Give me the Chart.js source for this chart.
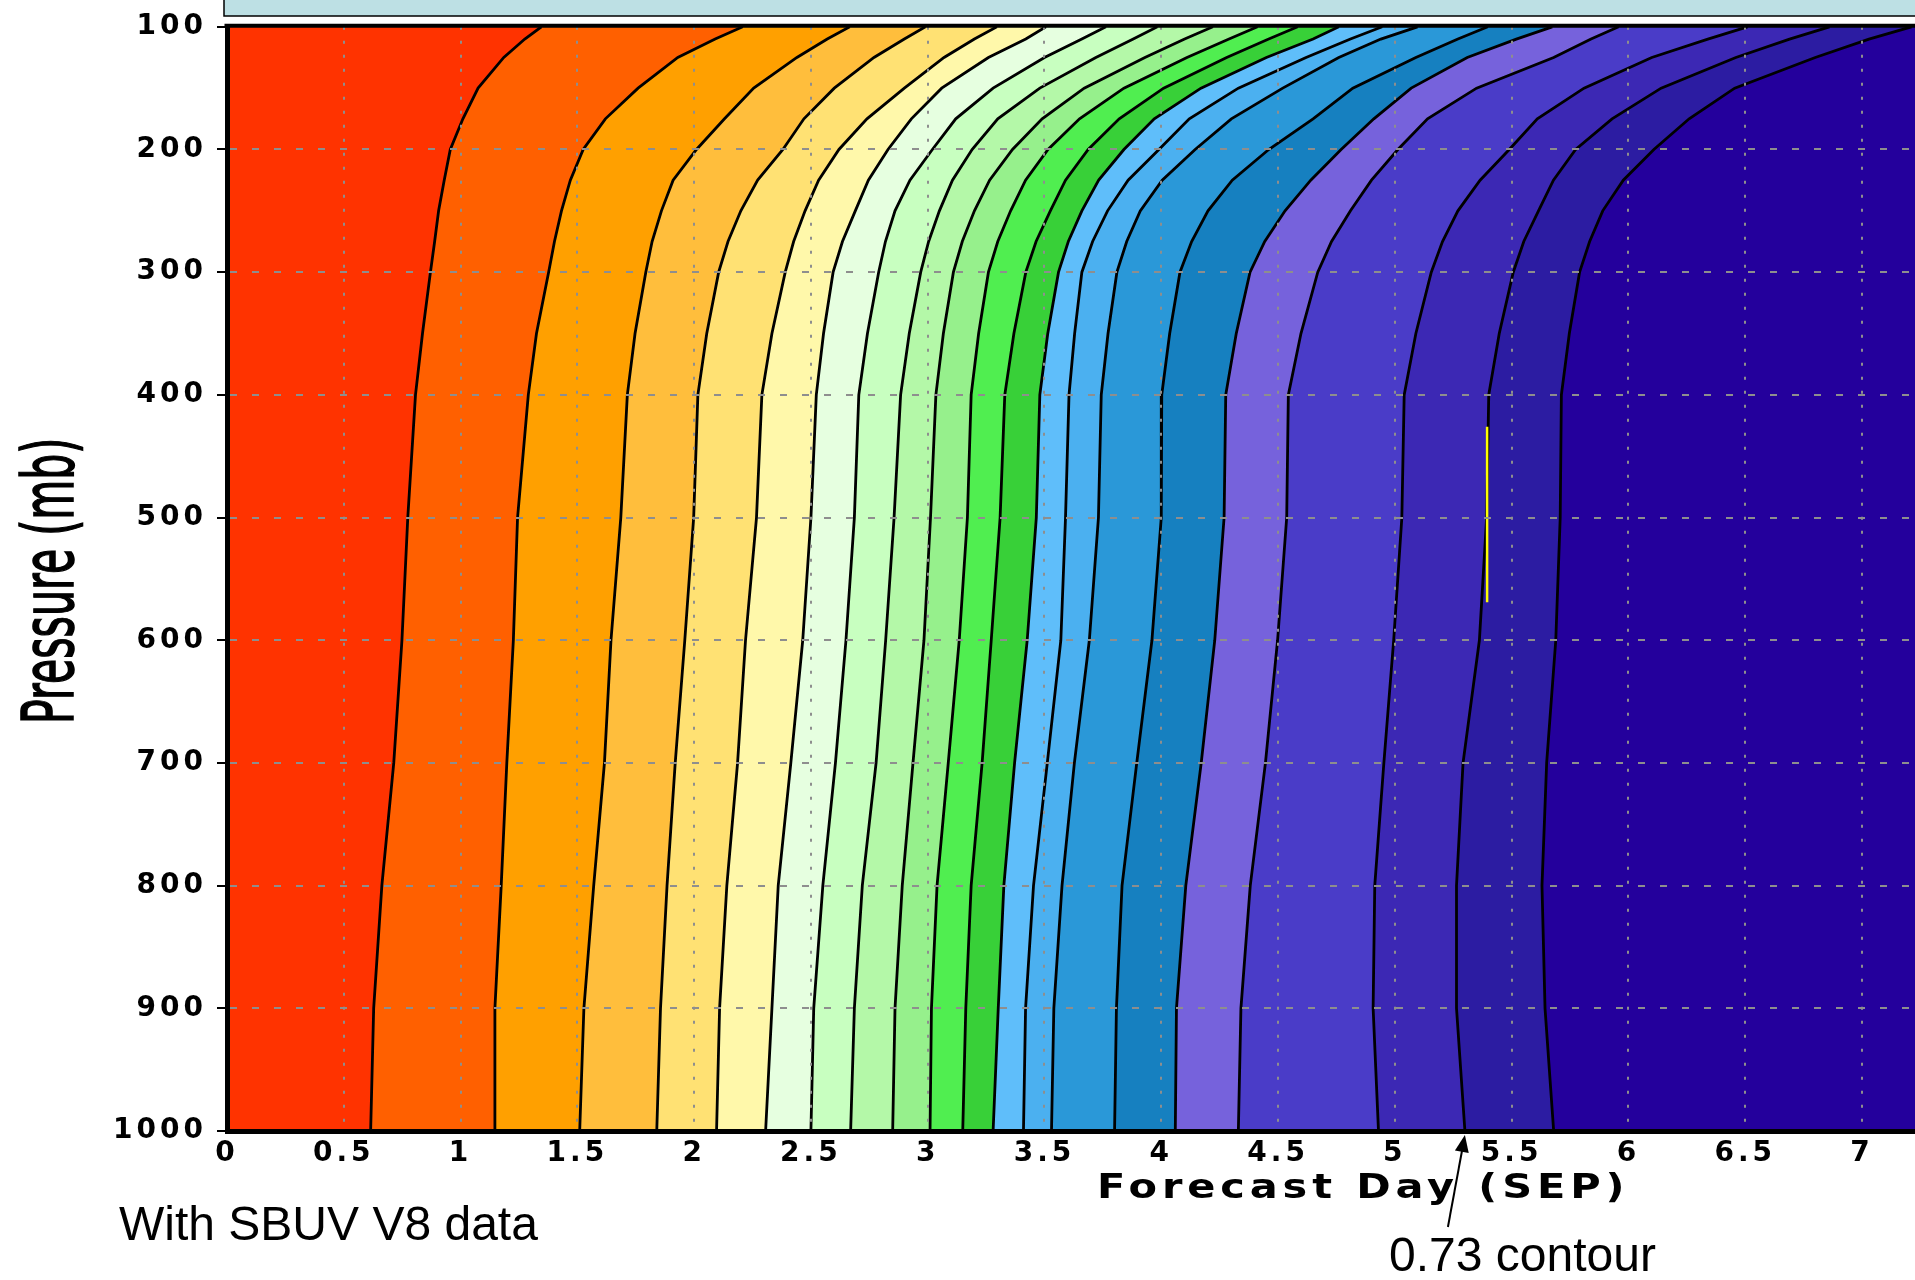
<!DOCTYPE html>
<html>
<head>
<meta charset="utf-8">
<script src="https://cdn.jsdelivr.net/npm/chart.js@4.4.1/dist/chart.umd.min.js"></script>
<style>
html,body{margin:0;padding:0;background:#fff;}
#wrap{position:relative;width:1915px;height:1280px;overflow:hidden;background:#fff;}
#c{position:absolute;left:0;top:0;width:1915px;height:1280px;}
.note{position:absolute;font-family:"Liberation Sans",Arial,sans-serif;font-size:48px;line-height:48px;color:#000;white-space:nowrap;}
</style>
</head>
<body>
<div id="wrap">
<canvas id="c" width="1915" height="1280"></canvas>
<div class="note" style="left:119px;top:1200px;">With SBUV V8 data</div>
<div class="note" style="left:1389px;top:1231px;">0.73 contour</div>
</div>
<script>
// ---------------- data ----------------
const pressureLevels = [100, 110, 125, 150, 175, 200, 225, 250, 275, 300, 350, 400, 500, 600, 700, 800, 900, 1000];

// forecast day of each contour line at the pressure levels above
const contour01 = [1.346, 1.275, 1.185, 1.075, 1.01, 0.956, 0.93, 0.906, 0.889, 0.871, 0.837, 0.807, 0.774, 0.749, 0.714, 0.663, 0.628, 0.615];
const contour02 = [2.208, 2.09, 1.93, 1.76, 1.62, 1.525, 1.47, 1.432, 1.402, 1.377, 1.325, 1.29, 1.244, 1.226, 1.198, 1.174, 1.147, 1.147];
const contour03 = [2.666, 2.57, 2.44, 2.255, 2.13, 2.01, 1.91, 1.86, 1.82, 1.793, 1.747, 1.714, 1.686, 1.644, 1.616, 1.57, 1.528, 1.51];
const contour04 = [2.99, 2.9, 2.77, 2.6, 2.47, 2.38, 2.272, 2.2, 2.145, 2.105, 2.054, 2.016, 1.998, 1.96, 1.919, 1.884, 1.856, 1.84];
const contour05 = [3.296, 3.2, 3.07, 2.9, 2.74, 2.62, 2.533, 2.475, 2.426, 2.39, 2.333, 2.29, 2.267, 2.22, 2.186, 2.14, 2.109, 2.096];
const contour06 = [3.506, 3.42, 3.26, 3.06, 2.93, 2.83, 2.746, 2.69, 2.635, 2.595, 2.554, 2.523, 2.5, 2.465, 2.414, 2.36, 2.333, 2.306];
const contour07 = [3.763, 3.66, 3.5, 3.28, 3.12, 3.02, 2.924, 2.86, 2.819, 2.79, 2.742, 2.705, 2.686, 2.65, 2.605, 2.551, 2.512, 2.50];
const contour08 = [3.983, 3.88, 3.72, 3.48, 3.3, 3.19, 3.106, 3.05, 3.004, 2.97, 2.921, 2.884, 2.856, 2.82, 2.779, 2.72, 2.686, 2.67];
const contour09 = [4.221, 4.1, 3.93, 3.67, 3.49, 3.363, 3.265, 3.2, 3.148, 3.11, 3.067, 3.035, 3.012, 2.984, 2.937, 2.891, 2.86, 2.85];
const contour10 = [4.412, 4.29, 4.11, 3.84, 3.65, 3.515, 3.419, 3.355, 3.3, 3.26, 3.218, 3.186, 3.17, 3.135, 3.088, 3.04, 3.016, 3.01];
const contour11 = [4.584, 4.46, 4.28, 4.01, 3.82, 3.687, 3.59, 3.525, 3.464, 3.42, 3.369, 3.33, 3.31, 3.272, 3.233, 3.186, 3.163, 3.15];
const contour12 = [4.76, 4.65, 4.45, 4.17, 3.97, 3.84, 3.732, 3.66, 3.602, 3.56, 3.514, 3.48, 3.465, 3.426, 3.372, 3.326, 3.302, 3.28];
const contour13 = [4.946, 4.81, 4.62, 4.33, 4.12, 3.99, 3.858, 3.77, 3.706, 3.66, 3.629, 3.605, 3.59, 3.57, 3.512, 3.453, 3.419, 3.41];
const contour14 = [5.097, 4.94, 4.76, 4.52, 4.3, 4.145, 4.004, 3.91, 3.852, 3.81, 3.772, 3.743, 3.731, 3.692, 3.628, 3.575, 3.54, 3.53];
const contour15 = [5.398, 5.27, 5.09, 4.82, 4.65, 4.46, 4.304, 4.2, 4.13, 4.08, 4.036, 4.002, 4.0, 3.96, 3.895, 3.832, 3.808, 3.80];
const contour16 = [5.674, 5.52, 5.31, 5.07, 4.91, 4.77, 4.64, 4.53, 4.443, 4.38, 4.321, 4.276, 4.269, 4.229, 4.171, 4.105, 4.065, 4.06];
const contour17 = [5.958, 5.84, 5.68, 5.35, 5.14, 5.013, 4.9, 4.81, 4.729, 4.67, 4.598, 4.544, 4.537, 4.498, 4.446, 4.381, 4.341, 4.33];
const contour18 = [6.51, 6.34, 6.1, 5.81, 5.61, 5.49, 5.365, 5.27, 5.204, 5.156, 5.09, 5.04, 5.03, 4.995, 4.953, 4.914, 4.907, 4.93];
const contour19 = [6.861, 6.69, 6.46, 6.14, 5.93, 5.774, 5.679, 5.615, 5.552, 5.507, 5.447, 5.402, 5.393, 5.362, 5.292, 5.264, 5.264, 5.30];
const contour20 = [7.212, 7.03, 6.8, 6.455, 6.26, 6.109, 5.978, 5.89, 5.834, 5.791, 5.747, 5.713, 5.708, 5.689, 5.65, 5.63, 5.643, 5.68];

const contourDays = [contour01, contour02, contour03, contour04, contour05, contour06, contour07,
  contour08, contour09, contour10, contour11, contour12, contour13, contour14, contour15,
  contour16, contour17, contour18, contour19, contour20];

// colour of each shaded interval, left (low day) to right
const bandColors = ['#ff3300', '#ff6000', '#ffa000', '#ffbe3c', '#ffe173', '#fff8aa', '#e6ffe0',
  '#c8ffc0', '#b4f8a8', '#96f08c', '#50ee50', '#38d038', '#5fbefa', '#4bb0f0', '#2a98d8',
  '#1680c0', '#7662dc', '#4a3cc8', '#3c28b4', '#2c1ca2', '#24009c'];

// highlighted stretch of the 0.73 contour
const markerLevels = [426, 569];
const markerDays = [5.395, 5.395];

const xTickValues = [0, 0.5, 1, 1.5, 2, 2.5, 3, 3.5, 4, 4.5, 5, 5.5, 6, 6.5, 7];
const xTickLabels = ['0', '0.5', '1', '1.5', '2', '2.5', '3', '3.5', '4', '4.5', '5', '5.5', '6', '6.5', '7'];
const yTickValues = [100, 200, 300, 400, 500, 600, 700, 800, 900, 1000];
const yTickLabels = ['100', '200', '300', '400', '500', '600', '700', '800', '900', '1000'];

const X_MIN = 0, X_MAX = 7.227, P_TOP = 100, P_BOTTOM = 1000;
const GRID = '#8e8e8e';

// ---------------- datasets ----------------
function contourPoints(days) {
  return pressureLevels.map((p, i) => ({x: days[i], y: p}));
}

const datasets = [];
datasets.push({
  label: '0.73 marker',
  data: markerDays.map((d, i) => ({x: d, y: markerLevels[i]})),
  showLine: true, borderColor: '#ffff00', borderWidth: 2.5, pointRadius: 0, fill: false, order: 0
});
contourDays.forEach((days, i) => {
  datasets.push({
    label: 'contour ' + (i + 1),
    data: contourPoints(days),
    showLine: true, borderColor: '#000000', borderWidth: 2.8, pointRadius: 0,
    tension: 0, fill: false, order: 1
  });
});
bandColors.forEach((col, k) => {
  let pts;
  if (k === 0) {
    pts = [{x: X_MIN, y: P_TOP}, {x: X_MIN, y: P_BOTTOM}, {x: X_MAX, y: P_BOTTOM}, {x: X_MAX, y: P_TOP}];
  } else {
    pts = contourPoints(contourDays[k - 1]).concat([{x: X_MAX, y: P_BOTTOM}, {x: X_MAX, y: P_TOP}]);
  }
  datasets.push({
    label: 'band ' + (k + 1),
    data: pts,
    showLine: true, borderWidth: 0, borderColor: 'rgba(0,0,0,0)', backgroundColor: col,
    fill: 'shape', pointRadius: 0, tension: 0, order: 2 + (bandColors.length - k)
  });
});

// ---------------- decorations ----------------
const decor = {
  id: 'decor',
  beforeDraw(chart) {
    chart.ctx.letterSpacing = '4px';
  },
  afterDraw(chart) {
    const ctx = chart.ctx, a = chart.chartArea, xs = chart.scales.x;
    ctx.save();
    ctx.letterSpacing = '0px';
    // title box strip above the plot
    ctx.fillStyle = '#bde0e4';
    ctx.fillRect(a.left - 3, -4, chart.width - a.left + 10, 20);
    ctx.strokeStyle = '#000';
    ctx.lineWidth = 1.5;
    ctx.strokeRect(a.left - 3, -4, chart.width - a.left + 10, 20);
    // top frame
    ctx.lineWidth = 4;
    ctx.beginPath();
    ctx.moveTo(a.left - 2.5, a.top - 1);
    ctx.lineTo(a.right, a.top - 1);
    ctx.stroke();

    ctx.fillStyle = '#000';
    // y axis title
    ctx.save();
    ctx.translate(73, (a.top + a.bottom) / 2 + 2);
    ctx.rotate(-Math.PI / 2);
    ctx.scale(0.57, 1);
    ctx.font = '72px "DejaVu Sans"';
    ctx.textAlign = 'center';
    ctx.textBaseline = 'alphabetic';
    ctx.lineWidth = 1.6;
    ctx.strokeStyle = '#000';
    ctx.fillText('Pressure (mb)', 0, 0);
    ctx.strokeText('Pressure (mb)', 0, 0);
    ctx.restore();

    // x axis title
    ctx.save();
    ctx.translate(1097, 1198);
    ctx.scale(1.22, 1);
    ctx.font = 'bold 34px "DejaVu Sans"';
    ctx.letterSpacing = '4px';
    ctx.textAlign = 'left';
    ctx.textBaseline = 'alphabetic';
    ctx.fillText('Forecast Day (SEP)', 0, 0);
    ctx.restore();

    // arrow to the 0.73 contour
    const tipX = xs.getPixelForValue(contour19[contour19.length - 1]);
    const tipY = a.bottom + 4;
    const tailX = tipX - 17, tailY = tipY + 92;
    const ang = Math.atan2(tipY - tailY, tipX - tailX);
    const L = 17, W = 7;
    ctx.strokeStyle = '#000';
    ctx.lineWidth = 2;
    ctx.beginPath();
    ctx.moveTo(tailX, tailY);
    ctx.lineTo(tipX - (L - 2) * Math.cos(ang), tipY - (L - 2) * Math.sin(ang));
    ctx.stroke();
    ctx.beginPath();
    ctx.moveTo(tipX, tipY);
    ctx.lineTo(tipX - L * Math.cos(ang) + W * Math.sin(ang), tipY - L * Math.sin(ang) - W * Math.cos(ang));
    ctx.lineTo(tipX - L * Math.cos(ang) - W * Math.sin(ang), tipY - L * Math.sin(ang) + W * Math.cos(ang));
    ctx.closePath();
    ctx.fill();
    ctx.restore();
    ctx.letterSpacing = '0px';
  }
};

const tickFont = {family: 'DejaVu Sans', weight: 'bold', size: 28};

new Chart(document.getElementById('c'), {
  type: 'scatter',
  data: {datasets},
  options: {
    responsive: false,
    maintainAspectRatio: false,
    animation: false,
    devicePixelRatio: 1,
    events: [],
    layout: {padding: {left: 0, right: 0, top: 20, bottom: 0}},
    plugins: {legend: {display: false}, tooltip: {enabled: false}, title: {display: false}},
    scales: {
      x: {
        type: 'linear', min: X_MIN, max: X_MAX, position: 'bottom',
        afterBuildTicks: s => { s.ticks = xTickValues.map(v => ({value: v})); },
        afterFit: s => { s.height = 149; },
        ticks: {autoSkip: false, maxRotation: 0, minRotation: 0, padding: 6, color: '#000',
          font: tickFont, callback: (v, i) => xTickLabels[i]},
        grid: {z: 1, lineWidth: 2, drawTicks: false,
          color: c => (c.tick && c.tick.value === X_MIN) ? 'rgba(0,0,0,0)' : GRID},
        border: {display: true, z: 2, color: '#000', width: 5, dash: [3, 11]},
        title: {display: false}
      },
      y: {
        type: 'linear', min: P_TOP, max: P_BOTTOM, reverse: true, position: 'left',
        afterBuildTicks: s => { s.ticks = yTickValues.map(v => ({value: v})); },
        afterFit: s => { s.width = 227; },
        ticks: {autoSkip: false, padding: 10, color: '#000', font: tickFont,
          callback: (v, i) => yTickLabels[i]},
        grid: {z: 1, lineWidth: 2, drawTicks: true, tickLength: 10, tickColor: '#000', tickWidth: 2,
          color: c => (c.tick && (c.tick.value === P_TOP || c.tick.value === P_BOTTOM)) ? 'rgba(0,0,0,0)' : GRID},
        border: {display: true, z: 2, color: '#000', width: 5, dash: [7, 15]},
        title: {display: false}
      }
    }
  },
  plugins: [decor]
});
</script>
</body>
</html>
